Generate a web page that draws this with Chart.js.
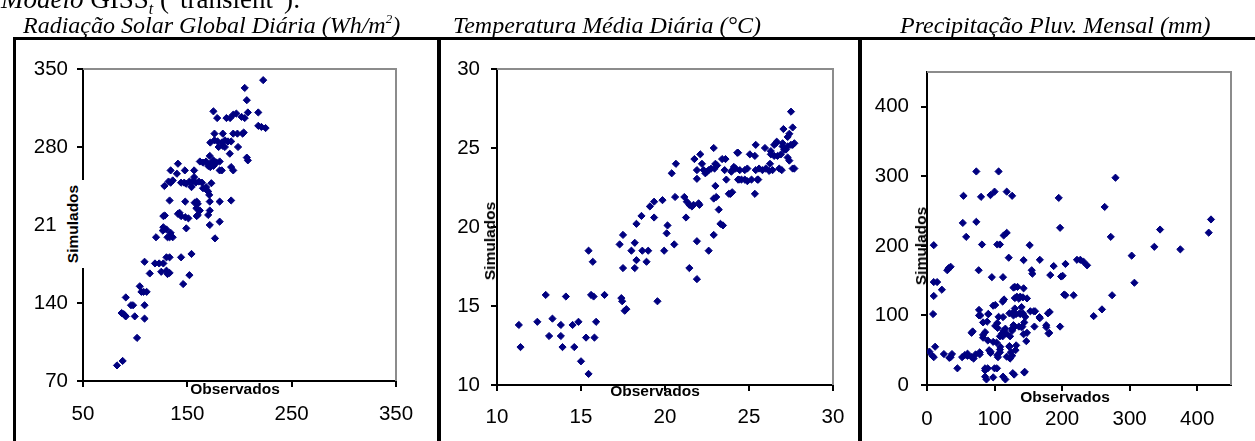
<!DOCTYPE html>
<html>
<head>
<meta charset="utf-8">
<script src="https://cdn.jsdelivr.net/npm/chart.js@4.4.1/dist/chart.umd.min.js"></script>
<style>
  body { margin: 0; background: #fff; }
  #page { position: relative; width: 1255px; height: 441px; overflow: hidden; background: #fff; }
  canvas { position: absolute; left: 0; top: 0; }
  .line { position: absolute; background: #000; }
  .title { position: absolute; font-family: "Liberation Serif", "Times New Roman", serif; font-style: italic; font-size: 24px; line-height: 24px; white-space: nowrap; color: #000; }
  .title sup { font-size: 13px; vertical-align: 10px; line-height: 0; }
  .axt { position: absolute; font-family: "Liberation Sans", Arial, sans-serif; font-weight: bold; font-size: 15.5px; line-height: 16px; white-space: nowrap; color: #000; transform: translate(-50%, -50%); }
  .rot { transform: translate(-50%, -50%) rotate(-90deg); }
</style>
</head>
<body>
<div id="page">
  <canvas id="c1" width="1255" height="441"></canvas>
  <canvas id="c2" width="1255" height="441"></canvas>
  <canvas id="c3" width="1255" height="441"></canvas>

  <!-- heading cut off at the top -->
  <div class="title" style="left:1px; top:-14px; font-size:27px; line-height:26px; font-style:normal;"><i>Modelo</i> GISS<sub style="font-size:16px;"><i>t</i></sub> ("transient"):</div>

  <div class="title" style="left:23px; top:13px;">Radiação Solar Global Diária (Wh/m<sup>2</sup>)</div>
  <div class="title" style="left:453px; top:13px;">Temperatura Média Diária (°C)</div>
  <div class="title" style="left:900px; top:13px;">Precipitação Pluv. Mensal (mm)</div>

  <!-- frame -->
  <div class="line" style="left:13px; top:37px; width:1242px; height:3px;"></div>
  <div class="line" style="left:13px; top:37px; width:3px; height:404px;"></div>
  <div class="line" style="left:437px; top:37px; width:4px; height:404px;"></div>
  <div class="line" style="left:858px; top:37px; width:4px; height:404px;"></div>

  <!-- axis titles -->
  <div style="position:absolute; left:57px; top:180px; width:31px; height:88px; background:#fff;"></div>
  <div class="axt rot" style="left:73px; top:224px;">Simulados</div>
  <div class="axt" style="left:235px; top:389px;">Observados</div>
  <div class="axt rot" style="left:490px; top:241px;">Simulados</div>
  <div class="axt" style="left:655px; top:391px;">Observados</div>
  <div class="axt rot" style="left:921px; top:246px;">Simulados</div>
  <div class="axt" style="left:1065px; top:397px;">Observados</div>
</div>

<script>
// Radiação solar global diária: [observado, simulado]
const radiacao = [
  [82.6, 84], [88, 88], [91, 145], [87, 131], [89, 130], [90, 129], [91, 128], [96, 138], [98, 138],
  [99.6, 128], [101.8, 108.7], [104.4, 155], [106, 150], [108, 150], [111, 150], [109, 138], [109, 126],
  [114, 166.5], [109, 177], [119, 175.5], [123, 175.5], [127, 175.5], [120, 199], [127, 218], [127, 208],
  [130, 206], [131, 199], [133, 199], [136, 199], [134, 203], [130, 181], [133, 181], [125, 168],
  [130, 169], [131, 166], [133, 167], [128, 245], [132, 249], [134, 248], [136, 250], [134, 259],
  [140, 256], [141, 265], [144, 248], [147, 248], [149, 247], [147.6, 259], [133, 232], [141, 220],
  [144, 218], [148, 217], [151, 216], [149, 207], [148, 231], [144, 181], [154, 184], [152, 165],
  [146, 157], [152, 249], [155, 249], [158, 248], [161, 249], [164, 248], [154, 244], [156.5, 259],
  [156.5, 253], [157, 230], [159, 231], [160, 229], [159, 218], [160, 219], [162, 267], [165, 266],
  [168, 267], [168, 244], [170, 240], [170, 219], [171.5, 210], [171.5, 231], [172, 265], [175, 268],
  [178, 266], [181, 267], [172, 262], [175, 263], [173, 247.5], [172, 284], [176, 286], [179, 285],
  [183, 284], [186, 286], [189, 285], [192, 285], [176, 292], [175, 312], [178.6, 306], [180, 280],
  [184, 281], [186, 280], [181, 259], [176.5, 198], [181, 213], [181, 231], [187.5, 306], [191, 306],
  [194, 309], [197, 310], [202, 307], [184, 292], [194, 292], [198, 292], [203, 292], [190.7, 274],
  [194, 259], [192, 262], [198.6, 280], [208, 311], [218, 311], [218, 299], [221, 298], [225, 297],
  [204, 293], [205, 306], [205, 333], [207, 322], [207, 270.5], [208, 268], [171.5, 272], [170, 263],
  [174, 264], [183, 259], [192, 232], [171, 237], [168, 242], [165, 243], [222.7, 340], [126.5, 205],
  [128.4, 218.5], [142.5, 221], [171.5, 223], [158.7, 225], [162, 223]
];

// Temperatura média diária: [observado, simulado]
const temperatura = [
  [11.3, 13.8], [11.4, 12.4], [12.4, 14.0], [12.9, 15.7], [13.1, 13.1], [13.3, 14.2], [13.8, 13.8],
  [13.8, 13.1], [13.9, 12.4], [14.1, 15.6], [14.5, 13.8], [14.6, 12.4], [14.85, 14.0], [15.0, 11.5],
  [15.3, 13.0], [15.45, 10.7], [15.45, 18.5], [15.6, 15.7], [15.75, 15.6], [15.7, 17.8], [15.8, 13.0],
  [15.9, 14.0], [16.4, 15.7], [17.3, 18.9], [17.4, 15.5], [17.45, 15.3], [17.5, 19.5], [17.5, 17.4],
  [17.6, 14.7], [17.7, 14.8], [18.0, 18.5], [18.2, 19.0], [18.3, 20.2], [18.2, 17.4], [18.3, 17.9],
  [18.6, 20.7], [18.65, 18.5], [18.9, 17.8], [19.0, 18.5], [19.1, 21.3], [19.35, 20.6], [19.35, 21.6],
  [19.55, 15.3], [19.85, 21.7], [19.95, 18.5], [20.1, 19.6], [20.15, 20.1], [20.4, 23.4], [20.55, 18.9],
  [20.6, 21.9], [20.65, 24.0], [21.15, 21.9], [21.25, 20.6], [21.3, 21.6], [21.45, 21.4], [21.6, 21.3],
  [21.7, 21.4], [21.45, 17.4], [21.75, 24.3], [21.9, 16.7], [21.9, 23.6], [21.9, 23.05], [21.9, 19.1],
  [22.0, 21.5], [22.05, 21.4], [22.1, 24.6], [22.2, 24.0], [22.3, 23.6], [22.4, 23.4], [22.5, 23.5],
  [22.6, 23.6], [22.75, 23.7], [22.6, 18.5], [22.9, 25.0], [22.9, 21.8], [22.9, 19.5], [23.0, 22.6],
  [23.0, 24.0], [23.1, 23.9], [22.95, 23.7], [23.2, 21.1], [23.3, 20.2], [23.45, 20.1], [23.05, 21.9],
  [23.4, 24.3], [23.6, 24.3], [23.55, 23.6], [23.65, 23.0], [23.8, 22.1], [23.9, 22.1], [23.95, 23.5],
  [24.2, 23.7], [24.35, 24.7], [24.35, 23.0], [24.55, 23.0], [24.75, 23.0], [24.45, 23.6], [24.75, 23.6],
  [25.35, 24.5], [25.15, 23.0], [25.35, 22.1], [25.4, 25.2], [25.4, 23.6], [25.6, 23.7], [25.8, 23.6],
  [26.0, 23.7], [26.2, 23.55], [26.4, 23.6], [25.55, 23.0], [25.95, 25.0], [26.25, 24.0], [26.5, 25.2],
  [26.65, 25.4], [26.3, 24.6], [26.5, 24.5], [26.7, 24.5], [27.0, 25.1], [27.1, 24.9], [27.3, 25.1],
  [26.95, 23.6], [27.05, 26.2], [27.3, 24.4], [27.4, 24.2], [27.3, 25.7], [27.4, 25.9], [27.5, 27.3],
  [27.6, 26.3], [27.6, 25.2], [27.7, 25.3], [27.7, 23.7], [24.3, 24.7], [25.05, 24.6], [26.3, 24.8],
  [26.9, 24.6], [27.2, 24.9], [26.6, 25.3], [27.0, 25.3], [27.5, 25.2], [24.0, 23.6], [24.1, 23.8],
  [24.9, 23.7], [26.8, 23.7], [27.6, 23.7], [24.4, 23.0], [24.9, 22.9], [25.5, 23.0], [24.0, 22.2]
];

// Precipitação pluviométrica mensal: [observado, simulado]
const precipitacao = [
  [3.5, 48], [8, 42], [10, 40], [10, 201], [10, 148], [15, 148], [10, 128], [9, 102], [12, 55], [22, 137],
  [25, 44.5], [33, 39], [35, 40], [37, 44.5], [30, 165], [32, 168], [35, 170], [45, 24], [53, 233],
  [54, 272], [58, 213], [52, 40], [56, 43], [60, 45], [67.6, 77], [69, 38], [73, 234.6], [73, 307],
  [76.5, 165], [77, 100], [77, 108], [78, 44], [78, 47], [80, 270.5], [81.4, 202], [83, 72], [86, 24],
  [88, 8], [89, 91], [91, 102], [94, 273], [94, 48], [96, 155], [98, 11], [100, 278], [101, 115],
  [101, 85], [103.6, 24], [104, 43], [105, 40], [104, 202], [108, 202], [106, 98], [106, 307],
  [108.5, 55], [111, 74], [113, 78], [116, 81], [112.5, 155], [113.5, 215], [114, 123], [116, 8],
  [118, 218.8], [118, 278], [118, 40.7], [121, 183], [122, 55], [123, 70], [126, 78], [128, 86],
  [126, 272], [128, 100], [130, 110], [128, 140], [129, 15], [131, 50], [133, 127], [138, 127],
  [138, 102], [140, 112], [142, 103], [136, 84], [141, 84], [143, 139], [143, 73], [143, 179.5],
  [144, 18], [145.5, 98], [148, 75], [148, 124.5], [152, 201], [155, 165], [158, 106], [160, 106],
  [159, 84], [167, 96], [167, 180], [176.6, 83], [180, 74], [181.6, 105], [182.5, 158], [187.5, 171],
  [195, 269], [197, 226], [197, 84], [200.8, 157], [205, 174], [205, 129], [217, 129], [222, 180],
  [227, 180], [232, 177], [237, 172], [246.7, 99], [259, 108.7], [263, 256], [272, 213], [274, 129],
  [279, 298], [303, 186], [307, 147], [336.5, 198.7], [345, 223.5], [375, 195], [417, 219], [420.4, 238],
  [130, 141], [134, 141], [130, 125], [136, 124], [142, 126], [98, 114], [112, 120], [79, 100],
  [90.6, 102], [83, 90], [104.5, 82], [104, 89], [112.6, 97.6], [122, 103], [127, 104], [132, 102],
  [137, 103], [140, 83], [144, 90], [126, 81], [130, 84], [153, 106], [166.6, 97.6], [179, 103],
  [176.5, 86], [181, 75], [66, 75], [86, 76], [83, 68], [90, 64], [98, 62], [103, 61], [108, 70],
  [112, 70], [117.6, 74], [147, 63], [122, 56], [124, 47], [126, 42], [123, 38], [132, 57], [108, 47],
  [108, 51], [94, 46], [92, 50], [72, 44], [66, 40], [60, 42], [86, 21], [90, 24], [100, 24],
  [112.6, 12], [127, 17], [144.6, 19], [86, 12], [156, 160], [198.5, 156], [203, 130]
];

// tick values and labels
const radXTicks = [50, 150, 250, 350];
const radYTicks = [70, 140, 210, 280, 350];
const radYLabels = ['70', '140', '21', '280', '350'];
const tempXTicks = [10, 15, 20, 25, 30];
const tempYTicks = [10, 15, 20, 25, 30];
const precXTicks = [0, 100, 200, 300, 400];
const precYTicks = [0, 100, 200, 300, 400];

const tickFont = { family: '"Liberation Sans", Arial, sans-serif', size: 20.5 };

// grey top/right frame of the plot area
const plotFrame = {
  id: 'plotFrame',
  beforeDatasetsDraw(chart) {
    const { ctx, chartArea: { left, top, right, bottom } } = chart;
    ctx.save();
    ctx.strokeStyle = '#8c8c8c';
    ctx.lineWidth = 2;
    ctx.beginPath();
    ctx.moveTo(left, top);
    ctx.lineTo(right, top);
    ctx.lineTo(right, bottom);
    ctx.stroke();
    ctx.restore();
  }
};

function axis(min, max, ticks, labels, horizontal, pad) {
  return {
    type: 'linear',
    min: min,
    max: max,
    afterBuildTicks: (s) => { s.ticks = ticks.map(v => ({ value: v })); },
    afterFit: (s) => { if (horizontal) s.height = 50; else s.width = 60; },
    grid: { drawOnChartArea: false, drawTicks: true, tickLength: 6, color: '#000', lineWidth: 2 },
    border: { display: true, color: '#000', width: 2 },
    ticks: {
      font: tickFont,
      color: '#000',
      padding: pad,
      autoSkip: false,
      maxRotation: 0,
      callback: (v, i) => {
        if (!labels) return String(v);
        const l = labels[i];
        // keep the clipped label where the full number would sit
        return l.length < String(v).length ? l + '\u2007' : l;
      }
    }
  };
}

function createChart(id, points, layoutPad, xAxis, yAxis) {
  new Chart(document.getElementById(id), {
    type: 'scatter',
    data: {
      datasets: [{
        data: points.map(p => ({ x: p[0], y: p[1] })),
        pointStyle: 'rectRot',
        pointRadius: 3.6,
        backgroundColor: '#000080',
        borderColor: '#000080',
        borderWidth: 1
      }]
    },
    options: {
      responsive: false,
      animation: false,
      devicePixelRatio: 1,
      layout: { padding: layoutPad },
      plugins: { legend: { display: false }, tooltip: { enabled: false } },
      scales: { x: xAxis, y: yAxis }
    },
    plugins: [plotFrame]
  });
}

createChart('c1', radiacao,
  { left: 23, right: 859, top: 69, bottom: 10 },
  axis(50, 350, radXTicks, null, true, 15),
  axis(70, 350, radYTicks, radYLabels, false, 9));

createChart('c2', temperatura,
  { left: 437, right: 422, top: 69, bottom: 6 },
  axis(10, 30, tempXTicks, null, true, 14),
  axis(10, 30, tempYTicks, null, false, 11));

createChart('c3', precipitacao,
  { left: 867, right: 24, top: 72, bottom: 6 },
  axis(0, 450, precXTicks, null, true, 16),
  axis(0, 450, precYTicks, null, false, 12));
</script>
</body>
</html>
